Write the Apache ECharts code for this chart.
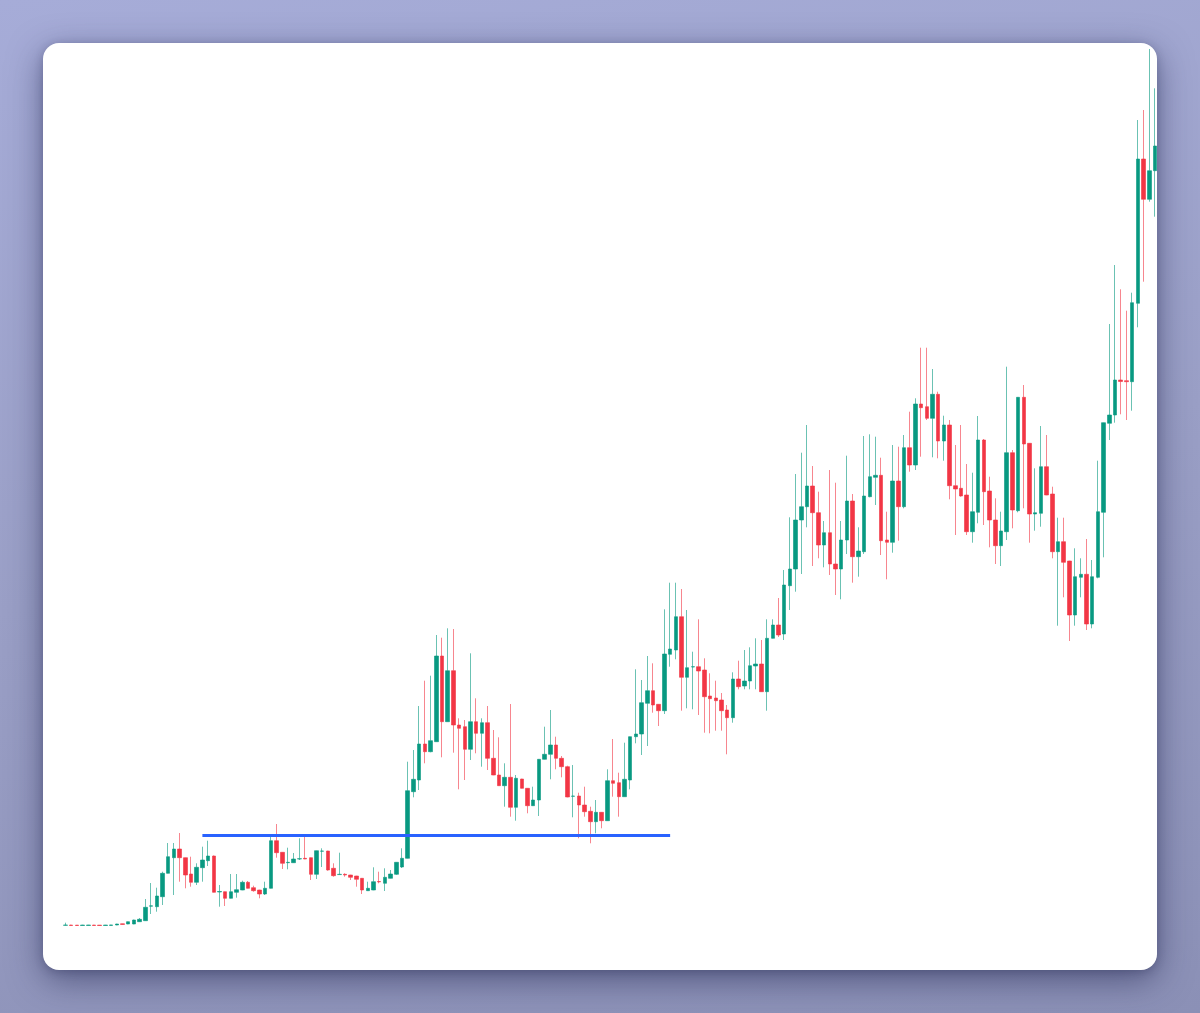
<!DOCTYPE html>
<html>
<head>
<meta charset="utf-8">
<script src="https://cdn.jsdelivr.net/npm/echarts@6/dist/echarts.min.js"></script>
<style>
  html, body { margin:0; padding:0; width:1200px; height:1013px; overflow:hidden; }
  body { background: linear-gradient(170deg, #a6acd8 0%, #9a9fc6 50%, #8b90b6 100%); position:relative; font-family: "Noto Sans", sans-serif; }
  #card { position:absolute; left:43px; top:43px; width:1114px; height:927px; background:#fff; border-radius:16px; overflow:hidden;
          box-shadow: 0 10px 34px rgba(35,38,80,0.55), 0 2px 8px rgba(35,38,80,0.25); }
  #chart { position:absolute; left:0; top:0; width:1130px; height:927px; }
</style>
</head>
<body>
<div id="card"><div id="chart"></div></div>
<script>
// Values (price units), one entry per candle
const opens = [
24.7,25,24.9,24.5,24.6,25,24.9,24.5,24.6,25,26.2,26,26,28.3,29.3,43.8,43.3,53.3,76.7,92.3,
101,92.3,76,67.7,82.3,89.3,94,58,58.3,51.7,57.7,60,67.7,62.3,60,56,61.7,109.3,97.7,87.3,
87.3,91,91.7,92.3,75.7,98.8,99,81.7,75.4,75.7,75,74,71.7,59.3,60,68.5,66.7,71.7,75.7,83,
91.7,158.3,170,206,198.3,208.3,294,228.3,279.3,225,223.3,200.7,228.3,216.7,227.3,191.7,175,164.3,172.7,142.7,
171,161.7,144.3,150,190.7,195.7,205,191.7,183.3,153.7,154,145,138.7,128.3,137.7,129.3,169.3,167.3,153.3,170,
213.3,216,246.7,259.3,245.7,239.3,295.7,300,333.3,272.7,283,283.3,280,254,252,250,240,232.3,271,264,
269,284,286,258.3,311.7,325,316,364.3,381,430,443.3,464,437.3,405,417.3,386,381,410,449,393.3,
398.3,453.3,472.7,474.7,410,407.7,469,443.3,502.3,485,546,543.3,531.7,555.7,509,525,464.3,461.7,455,418.3,
437.7,510,459,430,404.3,418.3,497.3,439.3,552.7,506.7,436,436.7,483.3,456,398.3,408.3,389,335,372.7,375.7,
326,372.7,437.7,526.7,535,570,569.3,568.3,646.7,791,750.7,779.3
];
const closes = [
25,24.5,24.5,25,25,24.5,24.5,25,25.1,26,25.6,28.3,30,30.7,42.7,44.2,54,76.7,93.3,101,
92.3,75,67.7,82.7,90,94,57.7,58.5,51.7,58.3,60.3,67.7,61.7,59.3,56,61.7,109.3,97.3,86.7,87.7,
91,91.3,91,75.7,99.3,99,80,74.3,75.7,75,72.7,70.7,60,61.7,68.3,68.1,72.7,76,87.7,91.7,
159.3,170.7,206,198.3,209.3,294,228.3,279.3,225,221.7,200.7,228.3,216.7,227.3,191.7,175,164.3,172.7,142.7,171.7,
161.7,144.3,150,190.7,195.7,205,191.7,183.3,153,154,145,138.3,128.3,137.7,129.3,169.3,166.7,153.3,170.7,213.3,
216,247.3,259.3,245,239.3,296,301,333.3,272.7,282.3,283.3,279,253.3,251.3,249.3,239.3,232.3,271,263.3,269,
284.3,286,258.3,311.7,325,315,365,381,430,443.3,464,437.3,405,417.3,386,381,410,449,393.3,399,
454,473.3,474.7,409.3,407.7,469,443.3,502.3,485,546,542.3,531.7,555.7,509,525,464.3,461,454,418.3,438.3,
510,458.3,430,404.3,419,497.3,440,552.7,506,436,437.3,483.3,455,398.3,408.3,387.7,335,373.3,375.7,326,
373.3,438.3,527.3,535,570,568.5,568.3,647.3,791,750.7,779.3,804
];
const lows = [
24.3,24.3,24.4,24.4,24.5,24.4,24.4,24.4,24.5,24.8,25.4,25.8,25.8,28,29,36,38.3,45,76.5,55,
68.3,61.7,63.3,65,68.3,84,57.5,43.3,44,51.5,52.3,59.8,61.5,58.3,51.7,55,61.5,92.3,81,80.7,
87,90,90.8,70,71,83,79.3,73.3,75.2,73.3,70,63.3,56,59.1,59.8,66.7,59,71.5,75,82,
91.5,152.7,160,186.7,197.7,208.1,192.7,228.1,197.3,160.7,170,190,196.7,183.3,180,174.8,164.1,143.3,133.3,129.3,
161.5,136.7,144.1,134,190.5,170.7,180.7,172.7,152.7,132.7,111.7,133.3,106.7,116.7,121.7,129.1,153.3,133.3,153.1,160.7,
206.7,195,204,237.3,224,236,283.3,290.7,239.3,241.7,240.7,235,217.3,216.7,219.3,219.3,195.7,227.3,260.7,260.7,
260.7,260.7,258.1,239.3,311.5,313,310,340,358.3,376,422.7,384,391.7,382.7,375,355,350.7,396,367.3,373.3,
396,452.7,445,395,370.7,397.3,409.3,441.7,478.3,480,493.3,530,492.7,491.7,489.3,450.7,415,453.3,415,407.3,
426.7,425,402.7,386,384,410,421.7,437.7,441.7,407.3,419.3,423.3,454.8,391.7,324.3,352.7,309,324.3,352.7,320,
321.7,371.7,392.7,510,527.3,535.7,530,539.3,622.7,668.3,748.3,733.3
];
const highs = [
27.3,25.2,25,25.2,25.1,25.1,25,25.1,25.2,26.2,26.3,28.5,30.3,32,51,67,62.3,78.3,107,107,
117,92.5,93.3,86.7,103.3,109.3,94.5,65,58.5,76,76,69.3,69,64.3,60.2,68.3,115,126,98,102.3,
97,111.7,113.3,92.5,99.5,101.7,99.2,86.7,97.3,76.7,75.2,74.2,71.9,68.3,82.7,78.3,81.7,80,87.9,101.7,
188.3,200,244,269.3,274.3,315,312.3,321.7,321,231.7,230,296.7,251.7,231.7,244,220,212.7,186.7,246,175,
171.2,161.9,163.3,190.9,223.3,240,213.3,194,184.3,185,157.3,163.3,143.3,150,137.9,180.7,211,177.3,207.3,213.5,
280.7,270,294,286.7,245.9,340.7,367.3,367.3,361,340,298.3,330.7,291.7,276.7,269.3,257,245,277.7,289.3,300,
302.7,311.7,310,330.7,330.7,352,380,432.7,476,497.3,525,484,458.3,429,480,467.3,429,494.3,456,422.7,
514,515.7,513.3,492.3,438.3,505,503.3,515,538.3,551.7,602.3,602.3,581,558.3,534.3,530,505,525,486,477.3,
534,511,473.3,451.7,438.3,583.3,500,553,565,506.9,481.7,524,515,463.3,432.3,432.3,389.2,401.7,391.7,411,
390,489.3,527.5,626,685,660.7,639.3,657.3,830,840,901,861.7
];
// Horizontal level drawn across the base (candle index range and price)
const levelStart = 24;
const levelEnd = 106;
const levelPrice = 114.5;

const categories = opens.map((_, i) => 'D' + (i + 1));
const candleData = opens.map((o, i) => [o, closes[i], lows[i], highs[i]]);

const chart = echarts.init(document.getElementById('chart'), null, { renderer: 'canvas' });
const N = opens.length;
const slot = 5.704;
const gridLeft = 19.65;
const gridWidth = N * slot;
chart.setOption({
  animation: false,
  backgroundColor: 'transparent',
  grid: { left: gridLeft, width: gridWidth, top: 0, bottom: 0, containLabel: false },
  xAxis: { type: 'category', data: categories, show: false, boundaryGap: true },
  yAxis: { type: 'value', min: -20, max: 907, show: false, splitLine: { show: false } },
  series: [{
    type: 'candlestick',
    data: candleData,
    barWidth: 4,
    itemStyle: {
      color: '#089981',
      color0: '#F23645',
      borderColor: 'rgba(8,153,129,0.6)',
      borderColor0: 'rgba(242,54,69,0.6)',
      borderColorDoji: 'rgba(8,153,129,0.6)',
      borderWidth: 1
    },
    markLine: {
      silent: true,
      symbol: ['none', 'none'],
      label: { show: false },
      lineStyle: { color: '#2962FF', width: 3, type: 'solid', opacity: 1 },
      emphasis: { disabled: true },
      data: [[
        { coord: [levelStart, levelPrice] },
        { coord: [levelEnd, levelPrice] }
      ]]
    }
  }]
});
</script>
</body>
</html>
